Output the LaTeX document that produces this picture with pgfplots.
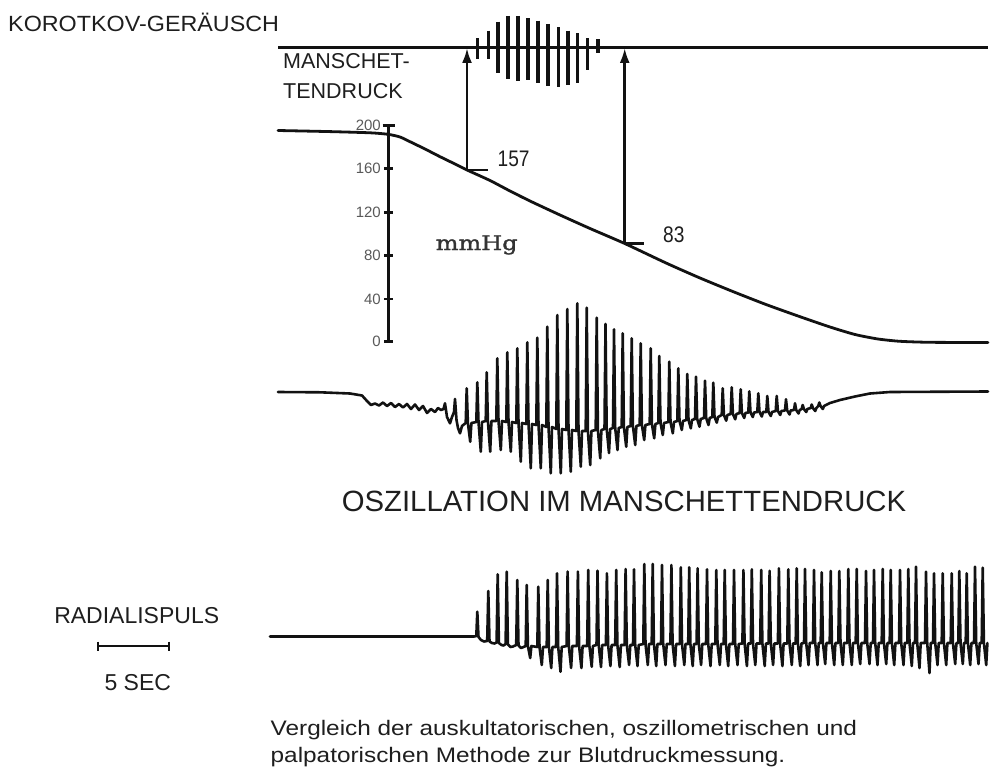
\documentclass[border=0pt]{standalone}
\usepackage{fontspec}
\setmainfont{Liberation Sans}
\newfontfamily\mmfont{DejaVu Serif}[FakeBold=1.6, FakeStretch=1.2]
\newfontfamily\capfont{Liberation Sans}[FakeStretch=1.16]
\newfontfamily\numfont{Liberation Sans}[FakeStretch=0.85]
\newfontfamily\korfont{Liberation Sans}[FakeStretch=1.06]
\usepackage{pgfplots}
\pgfplotsset{compat=1.18}
\usetikzlibrary{arrows.meta}
\newcommand\fs[1]{\fontsize{#1}{#1}\selectfont}
\definecolor{ink}{HTML}{121212}
\definecolor{txt}{HTML}{1E1E1E}
\begin{document}
\begin{tikzpicture}
\begin{axis}[scale only axis, width=993pt, height=768pt,
  xmin=0, xmax=993, ymin=0, ymax=768, y dir=reverse,
  hide axis, clip=false,
  every axis plot/.append style={ink, line join=round, line cap=round, mark=none}]
% invisible frame
\addplot[draw=none] coordinates {(0,0) (993,768)};
% ---------- Korotkov ----------
\addplot[line width=3pt, line cap=butt] coordinates {(278,47.5) (988,47.5)};
\addplot[line width=3.4pt, line cap=butt, unbounded coords=jump] coordinates {
(477.3,38.3) (477.3,59.3) (477.3,nan)
(488.3,30.7) (488.3,59.3) (488.3,nan)
(498,21.7) (498,72.7) (498,nan)
(508,16) (508,79.3) (508,nan)
(518,16) (518,80.7) (518,nan)
(528,18.3) (528,80) (528,nan)
(538,20.7) (538,83.3) (538,nan)
(548,24) (548,86) (548,nan)
(558.7,27.3) (558.7,87.3) (558.7,nan)
(568,30.7) (568,85) (568,nan)
(577.3,33.3) (577.3,83.3) (577.3,nan)
(587.3,38.3) (587.3,70) (587.3,nan)
(598,39.3) (598,53.3)};
% ---------- arrows and markers ----------
\addplot[line width=2.6pt, line cap=butt, -{Latex[length=15pt,width=10pt]}] coordinates {(467,170) (467,48)};
\addplot[line width=2.6pt, line cap=butt, -{Latex[length=15pt,width=10pt]}] coordinates {(624.7,243.5) (624.7,48)};
\addplot[line width=2.6pt, line cap=butt] coordinates {(467,170) (488,170)};
\addplot[line width=2.6pt, line cap=butt] coordinates {(624.7,243.5) (644,243.5)};
% ---------- mmHg scale ----------
\addplot[line width=2.6pt, line cap=butt] coordinates {(388.5,125) (388.5,342)};
\addplot[line width=2.4pt, line cap=butt, unbounded coords=jump] coordinates {
(382.5,125.5) (395,125.5) (395,nan)
(384,168.3) (393,168.3) (393,nan)
(384,212.5) (393,212.5) (393,nan)
(384,255.5) (393,255.5) (393,nan)
(384,299) (393,299) (393,nan)
(384,341.5) (393,341.5)};
% ---------- cuff pressure ----------
\addplot[line width=2.8pt, smooth, tension=0.4] coordinates {
(278,130.5) (330,131.6) (370,132.8) (388,134.3) (400,137) (410,141.7) (425,149)
(440,156.7) (455,164) (467,170) (490,180.5) (510,191) (530,201) (560,215)
(590,228.5) (624.7,243.5) (666.7,263.3) (700,278) (733.3,291.7) (766,304.5)
(800,316.7) (830,327) (855,334.5) (878,339) (900,341.3) (930,342.3) (988,342.5)};
% ---------- oscillation ----------
\addplot[line width=2.6pt] coordinates {
(278,392) (320,392.3) (350,393.5) (362,395.5) (367,401) (371,405) (375,403.5)
(379,405.5) (383,402.5) (387,406) (391,403) (395,407) (399,404) (403,407.5)
(407,404) (411,409) (415,404.5) (419,410) (423,406) (427,413) (431,409)
(435,412) (438,408) (441,410) (443.5,409) (445,403.3) (447,417) (450,423.3)
(452,417) (454,412) (455,399) (456.5,420) (458,428) (460,433.3) (462,426)
(465.7,423) (466.7,388.3) (467.9,423) (470.2,441.7) (471.4,423)
(476.3,422) (477.3,382.3) (478.5,422) (480.8,451.7) (482,422)
(485.7,421) (486.7,372.3) (487.9,421) (490.2,451.7) (491.4,421)
(496.3,421) (497.3,358.3) (498.5,421) (500.8,450) (502,421)
(506.3,422) (507.3,352.3) (508.5,422) (510.8,451.7) (512,422)
(516.3,423) (517.3,348.3) (518.5,423) (520.8,461.7) (522,423)
(526.3,424) (527.3,342.3) (528.5,424) (530.8,468.3) (532,424)
(536.3,425) (537.3,337.7) (538.5,425) (540.8,468.3) (542,425)
(546.3,427) (547.3,326.7) (548.5,427) (550.8,473.3) (552,427)
(556.3,429) (557.3,315) (558.5,429) (560.8,473.3) (562,429)
(566.3,430) (567.3,309) (568.5,430) (570.8,471.7) (572,430)
(576.3,431) (577.3,303.3) (578.5,431) (580.8,466.7) (582,431)
(585.7,431) (586.7,307.7) (587.9,431) (590.2,465) (591.4,431)
(595.7,430) (596.7,317.7) (597.9,430) (600.2,458.3) (601.4,430)
(604.5,429) (605.5,324) (606.7,429) (609,453) (610.2,429)
(613,428) (614,329.3) (615.2,428) (617.5,450) (618.7,428)
(621.7,427) (622.7,333.3) (623.9,427) (626.2,446.7) (627.4,427)
(630.7,426) (631.7,338.3) (632.9,426) (635.2,445) (636.4,426)
(639.7,425) (640.7,343.3) (641.9,425) (644.2,440) (645.4,425)
(649.7,424) (650.7,348.3) (651.9,424) (654.2,438.3) (655.4,424)
(658.3,423) (659.3,356) (660.5,423) (662.8,435) (664,423)
(668.3,422) (669.3,361.7) (670.5,422) (672.8,433.3) (674,422)
(677.3,421) (678.3,368.3) (679.5,421) (681.8,430) (683,421)
(686.3,420) (687.3,374) (688.5,420) (690.8,428.3) (692,420)
(695,419) (696,376.7) (697.2,419) (699.5,426.7) (700.7,419)
(704,418) (705,380.7) (706.2,418) (708.5,425) (709.7,418)
(712.3,417) (713.3,382.7) (714.5,417) (716.8,422.7) (718,417)
(721.7,415) (722.7,388.3) (723.9,415) (726.2,420.7) (727.4,415)
(730.7,414) (731.7,387.3) (732.9,414) (735.2,419.3) (736.4,414)
(739.7,413) (740.7,389.3) (741.9,413) (744.2,418) (745.4,413)
(748.3,412.5) (749.3,391.3) (750.5,412.5) (752.8,417) (754,412.5)
(757.3,412) (758.3,393.3) (759.5,412) (761.8,416.5) (763,412)
(766.3,412) (767.3,396) (768.5,412) (770.8,416) (772,412)
(775.7,411) (776.7,396) (777.9,411) (780.2,415) (781.4,411)
(785,410.5) (786,399.3) (787.2,410.5) (789.5,414.5) (790.7,410.5)
(794,410) (795,403.3) (796.2,410) (798.5,413.5) (799.7,410)
(801.7,409) (802.7,405) (803.9,409) (806.2,412) (807.4,409)
(810.7,408) (811.7,404.5) (812.9,408) (815.2,411) (816.4,408)
(818.3,406) (819.3,402.5) (820.5,406) (822.8,409) (824,406)
(830,403) (840,400) (855,396.5) (870,393.5) (890,392) (988,391.5)};
% ---------- radial pulse ----------
\addplot[line width=2.6pt] coordinates {
(270,636.5) (474,636.5) (476.3,636) (477.3,611.7) (478.5,637) (481,640)
(484,641.5) (487.2,641) (488.3,591) (489.5,641.5) (492,643) (494.5,643.5)
(496.6,642.5) (497.7,574.3) (498.9,643) (501.5,645) (503.5,645.5)
(505.6,644) (506.7,571.7) (507.9,644.5) (510.5,647) (513,646.5)
(516.2,645) (517.3,580) (518.5,645.5) (521,648) (523.5,647)
(525.7,646) (526.7,585) (527.9,646) (530.2,658) (531.4,646)
(537.3,647) (538.3,586.7) (539.5,647) (541.8,665) (543,647)
(546.7,647) (547.7,580) (548.9,647) (551.2,668) (552.4,647)
(556,647) (557,573.3) (558.2,647) (560.5,671.7) (561.7,647)
(566.6,646) (567.6,571.5) (568.8,646) (571.1,668) (572.3,646)
(576.9,646) (577.9,571.6) (579.1,646) (581.4,668) (582.6,646)
(587.2,646) (588.2,570) (589.4,646) (591.7,666.7) (592.9,646)
(596.5,645) (597.5,570.7) (598.7,645) (601,667) (602.2,645)
(605.9,645) (606.9,573.3) (608.1,645) (610.4,666) (611.6,645)
(615.2,645) (616.2,570) (617.4,645) (619.7,667) (620.9,645)
(624.6,645) (625.6,569) (626.8,645) (629.1,665) (630.3,645)
(633,645) (634,569.3) (635.2,645) (637.5,666) (638.7,645)
(643.3,644) (644.3,564) (645.5,644) (647.8,665) (649,644)
(651.7,644) (652.7,564) (653.9,644) (656.2,666) (657.4,644)
(661,644) (662,565) (663.2,644) (665.5,665) (666.7,644)
(670.4,644) (671.4,565) (672.6,644) (674.9,666) (676.1,644)
(679.8,644) (680.8,567.3) (682,644) (684.3,665) (685.5,644)
(688.2,644) (689.2,567.3) (690.4,644) (692.7,666) (693.9,644)
(696.6,644) (697.6,568.3) (698.8,644) (701.1,665) (702.3,644)
(706,644) (707,569.3) (708.2,644) (710.5,666) (711.7,644)
(715.3,644) (716.3,570) (717.5,644) (719.8,665) (721,644)
(723.7,644) (724.7,570) (725.9,644) (728.2,666) (729.4,644)
(733,644) (734,570) (735.2,644) (737.5,665) (738.7,644)
(742.4,643.5) (743.4,570) (744.6,643.5) (746.9,666) (748.1,643.5)
(750.8,643.5) (751.8,569.3) (753,643.5) (755.3,665) (756.5,643.5)
(760.2,643.5) (761.2,570) (762.4,643.5) (764.7,666) (765.9,643.5)
(768.6,643.5) (769.6,570.7) (770.8,643.5) (773.1,665) (774.3,643.5)
(777.9,643.5) (778.9,568.3) (780.1,643.5) (782.4,666) (783.6,643.5)
(787.3,643.5) (788.3,569.3) (789.5,643.5) (791.8,665) (793,643.5)
(795.7,643.5) (796.7,568.3) (797.9,643.5) (800.2,666) (801.4,643.5)
(804,643) (805,569) (806.2,643) (808.5,665) (809.7,643)
(813,643) (814,570) (815.2,643) (817.5,665) (818.7,643)
(820.7,643) (821.7,572.3) (822.9,643) (825.2,664) (826.4,643)
(829.7,643) (830.7,571) (831.9,643) (834.2,665) (835.4,643)
(838.3,643) (839.3,571) (840.5,643) (842.8,665) (844,643)
(847.3,643) (848.3,569) (849.5,643) (851.8,665) (853,643)
(855.7,643) (856.7,569) (857.9,643) (860.2,664) (861.4,643)
(865,643) (866,571) (867.2,643) (869.5,664) (870.7,643)
(873,643) (874,570) (875.2,643) (877.5,665) (878.7,643)
(881.7,643) (882.7,569) (883.9,643) (886.2,664) (887.4,643)
(889.7,643) (890.7,570) (891.9,643) (894.2,665) (895.4,643)
(899,643) (900,570) (901.2,643) (903.5,665) (904.7,643)
(907.3,643) (908.3,569) (909.5,643) (911.8,666) (913,643)
(915,643) (916,566.7) (917.2,643) (919.5,668) (920.7,643)
(925,643) (926,571.7) (927.2,643) (929.5,673) (930.7,643)
(933,643) (934,573.3) (935.2,643) (937.5,665) (938.7,643)
(941.7,643) (942.7,573.3) (943.9,643) (946.2,665) (947.4,643)
(950.7,643) (951.7,573.3) (952.9,643) (955.2,664) (956.4,643)
(958.3,643) (959.3,571) (960.5,643) (962.8,664) (964,643)
(965.7,643) (966.7,573.3) (967.9,643) (970.2,665) (971.4,643)
(974,643) (975,566.7) (976.2,643) (978.5,664) (979.7,643)
(981.7,643) (982.7,567.7) (983.9,643) (986.2,665) (987.4,643)};
% ---------- 5 SEC bar ----------
\addplot[line width=2.8pt, line cap=butt] coordinates {(97,646) (170,646)};
\addplot[line width=2pt, line cap=butt, unbounded coords=jump] coordinates {(97.8,641.5) (97.8,650.5) (97.8,nan) (169.2,641.5) (169.2,650.5)};
% ---------- texts ----------
\node[anchor=base west, font=\korfont\fs{22}, text=txt, inner sep=0pt] at (8,31.7) {KOROTKOV-GERÄUSCH};
\node[anchor=base west, font=\fs{21.5}, text=txt, inner sep=0pt] at (283,68) {MANSCHET-};
\node[anchor=base west, font=\fs{21.5}, text=txt, inner sep=0pt] at (283,99) {TENDRUCK};
\node[anchor=base west, font=\numfont\fs{22.5}, text=txt, inner sep=0pt] at (497.5,166.7) {157};
\node[anchor=base west, font=\numfont\fs{22.5}, text=txt, inner sep=0pt] at (663,242.5) {83};
\node[anchor=base, font=\mmfont\fs{20}, text=black!80, inner sep=0pt] at (476.7,250) {mmHg};
\node[anchor=east, font=\fs{15}, text=black!65, inner sep=0pt] at (381,125.5) {200};
\node[anchor=east, font=\fs{15}, text=black!65, inner sep=0pt] at (381,168.3) {160};
\node[anchor=east, font=\fs{15}, text=black!65, inner sep=0pt] at (381,212.5) {120};
\node[anchor=east, font=\fs{15}, text=black!65, inner sep=0pt] at (381,255.5) {80};
\node[anchor=east, font=\fs{15}, text=black!65, inner sep=0pt] at (381,299) {40};
\node[anchor=east, font=\fs{15}, text=black!65, inner sep=0pt] at (381,341.5) {0};
\node[anchor=base, font=\fs{29.3}, text=txt, inner sep=0pt] at (624,511.5) {OSZILLATION IM MANSCHETTENDRUCK};
\node[anchor=base, font=\fs{23}, text=txt, inner sep=0pt] at (136.7,623.3) {RADIALISPULS};
\node[anchor=base, font=\fs{23}, text=txt, inner sep=0pt] at (137.8,690) {5 SEC};
\node[anchor=base west, font=\capfont\fs{21}, text=txt, inner sep=0pt] at (270.5,735) {Vergleich der auskultatorischen, oszillometrischen und};
\node[anchor=base west, font=\capfont\fs{21}, text=txt, inner sep=0pt] at (270.5,762.5) {palpatorischen Methode zur Blutdruckmessung.};
\end{axis}
\pgfresetboundingbox
\useasboundingbox (current axis.south west) rectangle (current axis.north east);
\end{tikzpicture}
\end{document}
